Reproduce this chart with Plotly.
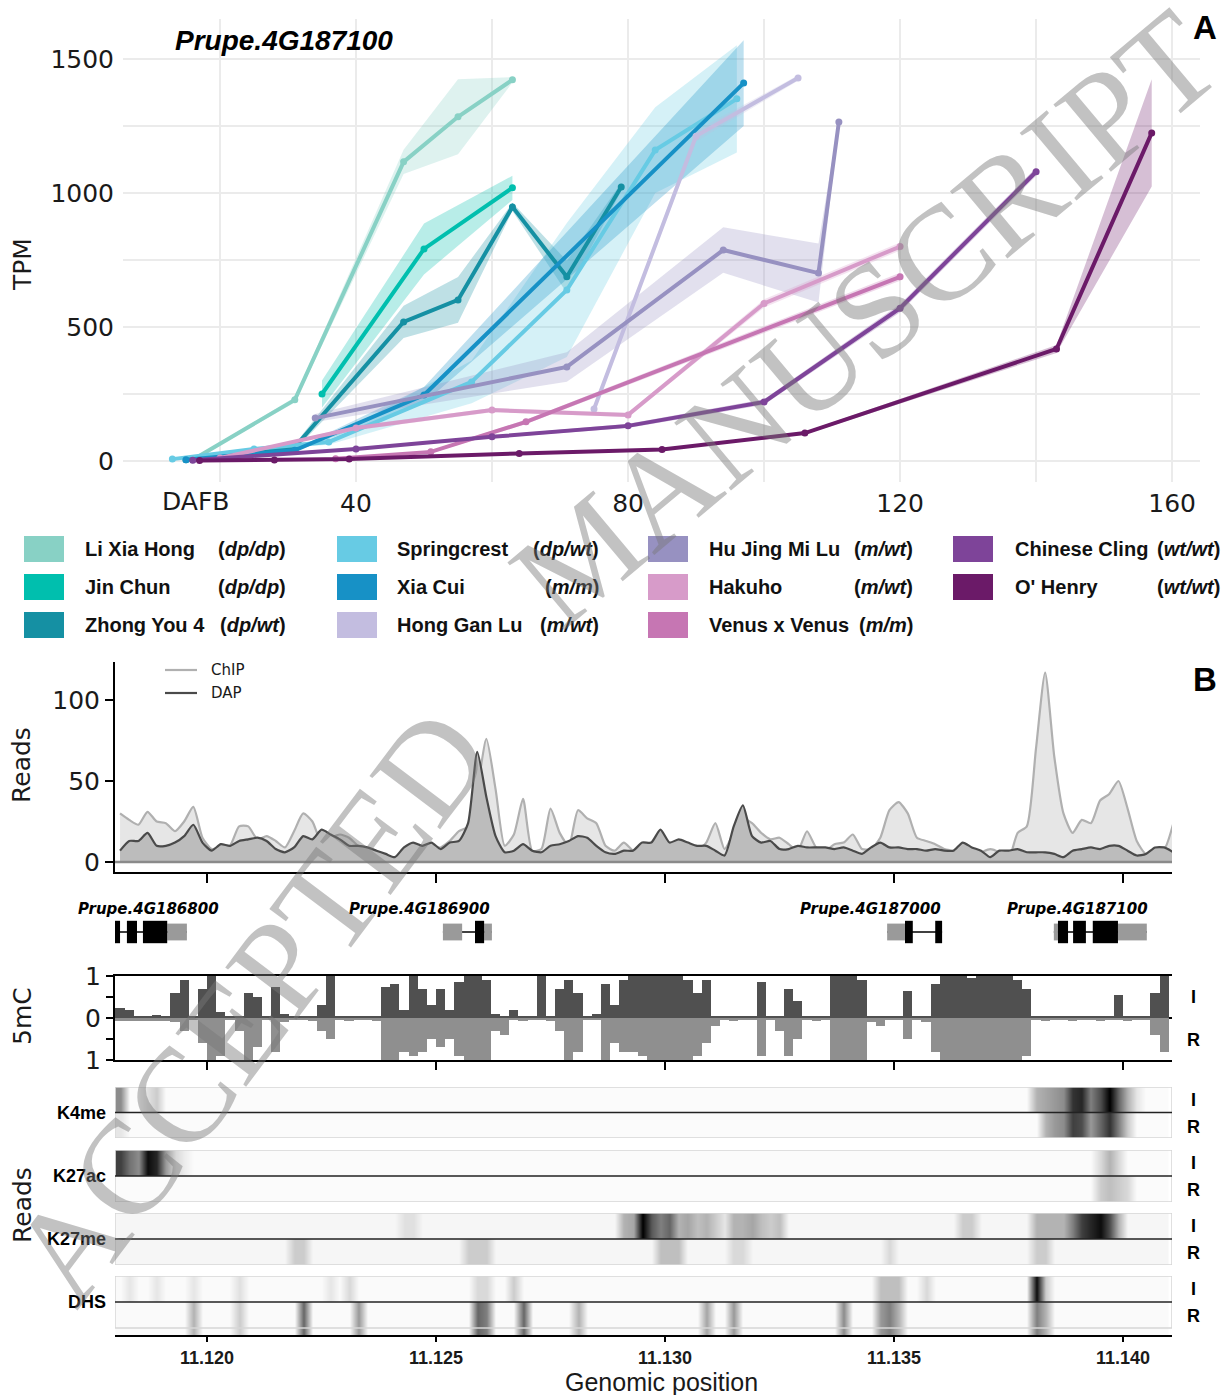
import plotly.graph_objects as go

W, H = 1225, 1395
def fx(p): return p / W
def fy(p): return 1 - p / H

# ---------------- Panel A data (DAFB, TPM, band half-width) ----------------
LXH_DAFB = [16, 31, 47, 55, 63]
LXH_TPM = [5, 228, 1116, 1284, 1422]
LXH_SD = [3, 10, 45, 140, 10]

JC_DAFB = [35, 50, 63]
JC_TPM = [250, 791, 1019]
JC_SD = [50, 95, 45]

ZY4_DAFB = [15, 31, 47, 55, 63, 71, 79]
ZY4_TPM = [5, 52, 519, 601, 948, 687, 1022]
ZY4_SD = [3, 10, 60, 85, 15, 60, 15]

SPC_DAFB = [13, 25, 36, 57, 71, 84, 96]
SPC_TPM = [7, 45, 71, 295, 638, 1160, 1351]
SPC_SD = [3, 5, 10, 80, 250, 160, 200]

XC_DAFB = [15, 31, 50, 97]
XC_TPM = [5, 40, 246, 1410]
XC_SD = [3, 5, 30, 160]

HGL_DAFB = [75, 90, 105]
HGL_TPM = [194, 1212, 1429]
HGL_SD = [10, 20, 10]

HJML_DAFB = [34, 71, 94, 108, 111]
HJML_TPM = [160, 351, 787, 701, 1265]
HJML_SD = [15, 55, 85, 110, 10]

HAK_DAFB = [20, 40, 60, 80, 100, 120]
HAK_TPM = [11, 123, 190, 172, 588, 800]
HAK_SD = [3, 8, 8, 8, 15, 15]

VV_DAFB = [37, 51, 65, 120]
VV_TPM = [8, 34, 146, 687]
VV_SD = [3, 5, 8, 15]

CC_DAFB = [16, 40, 60, 80, 100, 120, 140]
CC_TPM = [3, 45, 90, 131, 220, 570, 1079]
CC_SD = [2, 5, 5, 8, 10, 15, 15]

OH_DAFB = [17, 28, 39, 64, 85, 106, 143, 157]
OH_TPM = [2, 4, 7, 28, 43, 104, 418, 1224]
OH_SD = [1, 2, 2, 3, 3, 5, 15, 200]

CULTIVARS = ["Li Xia Hong", "Jin Chun", "Zhong You 4", "Springcrest", "Xia Cui", "Hong Gan Lu",
             "Hu Jing Mi Lu", "Hakuho", "Venus x Venus", "Chinese Cling", "O' Henry"]
GENOTYPES = ["dp/dp", "dp/dp", "dp/wt", "dp/wt", "m/m", "m/wt", "m/wt", "m/wt", "m/m", "wt/wt", "wt/wt"]
COLORS = ["#88d1c5", "#00bfae", "#1590a3", "#67cbe4", "#1791c6", "#c3bde0",
          "#9791c1", "#d79bc9", "#c676b3", "#7e4499", "#6b1a68"]
DAFB_TICKS = [20, 40, 60, 80, 100, 120, 140, 160]
DAFB_TICK_TEXT = ["", "40", "", "80", "", "120", "", "160"]
TPM_TICKS = [0, 250, 500, 750, 1000, 1250, 1500]
TPM_TICK_TEXT = ["0", "", "500", "", "1000", "", "1500"]

# ---------------- Panel B data ----------------
KB_RANGE = [11117.99, 11141.07]
KB_TICKS = [11120, 11125, 11130, 11135, 11140]
KB_TICK_TEXT = ["11.120", "11.125", "11.130", "11.135", "11.140"]
GRID_START_KB = 11118.1
GRID_STEP_KB = 0.2

CHIP_READS = [30, 26, 23, 31, 25, 24, 19, 25, 34, 15,
              8, 9, 10, 22, 22, 14, 16, 13, 9, 19,
              30, 25, 12, 15, 17, 15, 10, 8, 6, 3,
              2, 1, 4, 8, 9, 9, 13, 19, 22, 45,
              76, 45, 10, 17, 39, 7, 8, 33, 18, 10,
              32, 27, 24, 10, 7, 12, 7, 5, 7, 9,
              7, 5, 6, 7, 12, 24, 8, 18, 27, 24,
              18, 14, 15, 11, 7, 19, 9, 7, 11, 12,
              17, 8, 8, 15, 32, 37, 30, 15, 13, 11,
              8, 7, 5, 4, 6, 8, 6, 2, 18, 22,
              70, 117, 65, 30, 18, 26, 24, 38, 42, 50,
              33, 13, 5, 8, 8, 24]
DAP_READS = [7, 13, 13, 18, 10, 10, 12, 16, 23, 12,
             7, 11, 10, 13, 14, 15, 13, 8, 6, 9,
             16, 14, 20, 17, 14, 10, 10, 9, 7, 5,
             3, 9, 12, 10, 12, 8, 12, 13, 24, 68,
             40, 16, 6, 7, 11, 7, 6, 10, 11, 13,
             16, 15, 10, 6, 5, 7, 7, 12, 12, 20,
             12, 14, 12, 10, 10, 7, 4, 22, 35, 16,
             12, 13, 8, 8, 10, 9, 9, 9, 8, 9,
             7, 5, 9, 12, 9, 9, 8, 8, 7, 8,
             7, 7, 12, 9, 7, 3, 7, 7, 8, 6,
             6, 6, 5, 3, 7, 8, 9, 8, 10, 10,
             7, 4, 5, 9, 9, 6]

MC_I = [0.25, 0.2, 0.05, 0.05, 0.08, 0.05, 0.6, 0.9, 0.05, 0.7,
        1.0, 0.15, 0.05, 0.04, 0.6, 0.5, 0.05, 0.75, 0.1, 0.05,
        0.04, 0.05, 0.3, 1.0, 0.05, 0.04, 0.05, 0.05, 0.04, 0.75,
        0.8, 0.2, 1.0, 0.7, 0.3, 0.7, 0.2, 0.85, 1.0, 1.0,
        0.9, 0.1, 0.05, 0.2, 0.05, 0.04, 1.0, 0.05, 0.7, 0.9,
        0.6, 0.05, 0.1, 0.8, 0.3, 0.9, 1.0, 1.0, 1.0, 1.0,
        1.0, 1.0, 0.9, 0.6, 0.9, 0.05, 0.04, 0.05, 0.05, 0.04,
        0.85, 0.05, 0.05, 0.7, 0.4, 0.05, 0.04, 0.05, 1.0, 1.0,
        1.0, 0.9, 0.05, 0.05, 0.04, 0.05, 0.65, 0.05, 0.05, 0.8,
        1.0, 1.0, 1.0, 0.95, 1.0, 1.0, 1.0, 1.0, 0.9, 0.7,
        0.05, 0.04, 0.05, 0.05, 0.04, 0.05, 0.05, 0.04, 0.05, 0.55,
        0.05, 0.04, 0.05, 0.6, 1.0]
MC_R = [0.07, 0.07, 0.06, 0.07, 0.06, 0.07, 0.1, 0.3, 0.05, 0.6,
        1.0, 0.9, 0.05, 0.3, 1.0, 0.7, 0.05, 0.8, 0.1, 0.05,
        0.05, 0.06, 0.3, 0.5, 0.05, 0.06, 0.05, 0.05, 0.06, 1.0,
        1.0, 0.8, 0.9, 0.8, 0.5, 0.7, 0.5, 0.9, 1.0, 1.0,
        1.0, 0.3, 0.4, 0.05, 0.06, 0.05, 0.05, 0.06, 0.3, 1.0,
        0.8, 0.05, 0.05, 1.0, 0.6, 0.8, 0.8, 0.9, 1.0, 1.0,
        1.0, 1.0, 1.0, 0.9, 0.6, 0.2, 0.05, 0.06, 0.05, 0.05,
        0.9, 0.05, 0.3, 0.9, 0.5, 0.05, 0.06, 0.05, 1.0, 1.0,
        1.0, 1.0, 0.1, 0.2, 0.05, 0.05, 0.5, 0.05, 0.1, 0.8,
        1.0, 1.0, 1.0, 1.0, 1.0, 1.0, 1.0, 1.0, 1.0, 0.9,
        0.05, 0.06, 0.05, 0.05, 0.06, 0.05, 0.05, 0.06, 0.05, 0.05,
        0.06, 0.05, 0.05, 0.4, 0.8]

# heatmap tracks: background level + read bins {bin index: level}
TRACK_NAMES = ["K4me", "K27ac", "K27me", "DHS"]
TRACK_BG = [0.015, 0.015, 0.035, 0.02]
K4ME_I = {0: 0.45, 3: 0.12, 4: 0.2, 100: 0.3, 101: 0.35, 102: 0.4, 103: 0.45, 104: 0.8, 105: 0.85,
          106: 0.5, 107: 0.7, 108: 1.0, 109: 0.6, 110: 0.3, 111: 0.1}
K4ME_R = {0: 0.1, 101: 0.3, 102: 0.4, 103: 0.45, 104: 0.75, 105: 0.7, 106: 0.4, 107: 0.6, 108: 0.8,
          109: 0.5, 110: 0.2}
K27AC_I = {0: 0.75, 1: 0.55, 2: 0.45, 3: 0.95, 4: 0.85, 5: 0.4, 6: 0.15, 7: 0.07, 107: 0.15, 108: 0.3, 109: 0.15}
K27AC_R = {107: 0.2, 108: 0.25, 109: 0.2, 110: 0.15}
K27ME_I = {31: 0.12, 32: 0.12, 55: 0.3, 56: 0.35, 57: 1.0, 58: 0.65, 59: 0.5, 60: 0.6, 61: 0.3, 62: 0.35,
           63: 0.25, 64: 0.3, 65: 0.2, 66: 0.1, 67: 0.3, 68: 0.3, 69: 0.35, 70: 0.25, 71: 0.2, 72: 0.25,
           92: 0.2, 93: 0.2, 100: 0.3, 101: 0.3, 102: 0.3, 103: 0.3, 104: 0.5, 105: 0.75, 106: 0.85,
           107: 0.95, 108: 0.7, 109: 0.3}
K27ME_R = {19: 0.2, 20: 0.2, 38: 0.2, 39: 0.2, 40: 0.2, 59: 0.25, 60: 0.25, 61: 0.25, 67: 0.15, 68: 0.15,
           84: 0.15, 100: 0.2, 101: 0.2}
DHS_I = {1: 0.1, 4: 0.1, 8: 0.1, 13: 0.12, 23: 0.1, 25: 0.15, 39: 0.15, 40: 0.15, 43: 0.2, 83: 0.25,
         84: 0.25, 85: 0.25, 88: 0.15, 100: 0.95, 101: 0.2}
DHS_R = {8: 0.3, 13: 0.2, 20: 0.6, 26: 0.4, 39: 0.6, 40: 0.5, 44: 0.6, 50: 0.3, 64: 0.35, 67: 0.4,
         79: 0.45, 83: 0.4, 84: 0.5, 85: 0.3, 100: 0.5, 101: 0.3}

# gene models (kb)
GENE_NAMES = ["Prupe.4G186800", "Prupe.4G186900", "Prupe.4G187000", "Prupe.4G187100"]
GENE_SPANS = [(11117.99, 11119.56), (11125.15, 11126.22), (11134.85, 11136.05), (11138.49, 11140.52)]
GENE_LABEL_END = [11120.31, 11126.22, 11136.07, 11140.59]
GENE_CDS = [[(11117.99, 11118.10), (11118.25, 11118.47), (11118.60, 11119.13)],
            [(11125.85, 11126.05)],
            [(11135.24, 11135.41), (11135.90, 11136.05)],
            [(11138.58, 11138.80), (11138.91, 11139.19), (11139.34, 11139.89)]]
GENE_UTR = [[(11119.13, 11119.56)],
            [(11125.15, 11125.57), (11126.05, 11126.22)],
            [(11134.85, 11135.24)],
            [(11138.49, 11138.58), (11139.89, 11140.52)]]

# ---------------- build ----------------
def rgba(h, a):
    h = h.lstrip("#")
    return "rgba(%d,%d,%d,%.2f)" % (int(h[0:2], 16), int(h[2:4], 16), int(h[4:6], 16), a)

SERIES = [(LXH_DAFB, LXH_TPM, LXH_SD), (JC_DAFB, JC_TPM, JC_SD), (ZY4_DAFB, ZY4_TPM, ZY4_SD),
          (SPC_DAFB, SPC_TPM, SPC_SD), (XC_DAFB, XC_TPM, XC_SD), (HGL_DAFB, HGL_TPM, HGL_SD),
          (HJML_DAFB, HJML_TPM, HJML_SD), (HAK_DAFB, HAK_TPM, HAK_SD), (VV_DAFB, VV_TPM, VV_SD),
          (CC_DAFB, CC_TPM, CC_SD), (OH_DAFB, OH_TPM, OH_SD)]

fig = go.Figure()
for (xs, ys, sd), col in zip(SERIES, COLORS):
    up = [y + s for y, s in zip(ys, sd)]
    lo = [y - s for y, s in zip(ys, sd)]
    fig.add_trace(go.Scatter(x=xs + xs[::-1], y=up + lo[::-1], fill="toself",
                             fillcolor=rgba(col, 0.28), line=dict(width=0), mode="lines",
                             hoverinfo="skip", showlegend=False, xaxis="x", yaxis="y"))
for (xs, ys, sd), col, nm in zip(SERIES, COLORS, CULTIVARS):
    fig.add_trace(go.Scatter(x=xs, y=ys, mode="lines+markers", name=nm,
                             line=dict(color=col, width=4), marker=dict(size=7, color=col),
                             showlegend=False, xaxis="x", yaxis="y"))

grid = [round(GRID_START_KB + GRID_STEP_KB * i, 2) for i in range(len(CHIP_READS))]
fig.add_trace(go.Scatter(x=grid, y=CHIP_READS, fill="tozeroy", fillcolor="#e6e6e6", mode="lines",
                         line=dict(color="#b0b0b0", width=2.2, shape="spline", smoothing=0.6),
                         showlegend=False, xaxis="x2", yaxis="y2"))
fig.add_trace(go.Scatter(x=grid, y=DAP_READS, fill="tozeroy", fillcolor="#bcbcbc", mode="lines",
                         line=dict(color="#4a4a4a", width=2.2, shape="spline", smoothing=0.6),
                         showlegend=False, xaxis="x2", yaxis="y2"))

mgrid = grid[:len(MC_I)]
fig.add_trace(go.Bar(x=mgrid, y=MC_I, width=GRID_STEP_KB, marker=dict(color="#505050", line=dict(width=0)),
                     showlegend=False, xaxis="x4", yaxis="y4"))
fig.add_trace(go.Bar(x=mgrid, y=[-v for v in MC_R], width=GRID_STEP_KB,
                     marker=dict(color="#8f8f8f", line=dict(width=0)),
                     showlegend=False, xaxis="x4", yaxis="y4"))

TRACKS = [(K4ME_I, K4ME_R), (K27AC_I, K27AC_R), (K27ME_I, K27ME_R), (DHS_I, DHS_R)]
for k, ((ri, rr), bg) in enumerate(zip(TRACKS, TRACK_BG)):
    row_i = [ri.get(i, bg) for i in range(len(mgrid))]
    row_r = [rr.get(i, bg) for i in range(len(mgrid))]
    fig.add_trace(go.Heatmap(x=mgrid, y=[-0.5, 0.49, 0.51, 1.5], z=[row_r, row_r, row_i, row_i],
                             zmin=0, zmax=1, zsmooth="best",
                             colorscale=[[0, "#ffffff"], [1, "#000000"]], showscale=False,
                             xaxis="x%d" % (5 + k), yaxis="y%d" % (5 + k), hoverinfo="skip"))

NUMF = dict(family="DejaVu Sans", size=25, color="#1a1a1a")
layout = dict(
    width=W, height=H, margin=dict(l=0, r=0, t=0, b=0, autoexpand=False), paper_bgcolor="white",
    plot_bgcolor="white", barmode="overlay", bargap=0, showlegend=False,
    xaxis=dict(domain=[fx(123), fx(1200)], range=[5.74, 164.1], anchor="y", tickvals=DAFB_TICKS,
               ticktext=DAFB_TICK_TEXT, showgrid=True, gridcolor="#ebebeb", gridwidth=2, zeroline=False,
               showline=False, ticks="", tickfont=NUMF, ticklabelstandoff=4, automargin=False),
    yaxis=dict(domain=[fy(482), fy(19)], range=[-78.4, 1649], anchor="x", tickvals=TPM_TICKS,
               ticktext=TPM_TICK_TEXT, showgrid=True, gridcolor="#ebebeb", gridwidth=2, zeroline=False,
               showline=False, ticks="", tickfont=NUMF, ticklabelstandoff=8, automargin=False),
    xaxis2=dict(domain=[fx(115), fx(1172)], range=KB_RANGE, anchor="y2", showline=True, linecolor="black",
                linewidth=2, ticks="outside", ticklen=9, tickwidth=2, tickcolor="black", tickvals=KB_TICKS,
                showticklabels=False, showgrid=False, zeroline=False, automargin=False),
    yaxis2=dict(domain=[fy(872), fy(662)], range=[-6.17, 123.5], anchor="x2", showline=True,
                linecolor="black", linewidth=2, ticks="outside", ticklen=8, tickwidth=2, tickcolor="black",
                tickvals=[0, 50, 100], tickfont=NUMF, showgrid=False, zeroline=False, automargin=False),
    xaxis3=dict(domain=[fx(115), fx(1172)], range=KB_RANGE, anchor="y3", visible=False, automargin=False),
    yaxis3=dict(domain=[fy(952), fy(912)], range=[-1, 1], anchor="x3", visible=False, automargin=False),
    xaxis4=dict(domain=[fx(115), fx(1172)], range=KB_RANGE, anchor="y4", showline=True, mirror=True,
                linecolor="black", linewidth=2, ticks="outside", ticklen=8, tickwidth=2, tickcolor="black",
                tickvals=KB_TICKS, showticklabels=False, showgrid=False, zeroline=False, automargin=False),
    yaxis4=dict(domain=[fy(1060), fy(976)], range=[-1, 1], anchor="x4", showline=True, linecolor="black",
                linewidth=2, ticks="outside", ticklen=7, tickwidth=2, tickcolor="black",
                tickvals=[-1, -0.5, 0, 0.5, 1], ticktext=["1", "", "0", "", "1"], tickfont=NUMF,
                showgrid=False, zeroline=True, zerolinecolor="black", zerolinewidth=2, automargin=False),
)
TRACK_PX = [(1087, 1138), (1150, 1202), (1213, 1265), (1276, 1335)]
for k, (t, b) in enumerate(TRACK_PX):
    n = 5 + k
    last = (k == 3)
    layout["xaxis%d" % n] = dict(domain=[fx(115), fx(1172)], range=KB_RANGE, anchor="y%d" % n,
                                 visible=last, showline=last, linecolor="black", linewidth=2,
                                 ticks="outside" if last else "", ticklen=5, tickwidth=2, tickcolor="black",
                                 tickvals=KB_TICKS, ticktext=KB_TICK_TEXT, showgrid=False, zeroline=False,
                                 automargin=False,
                                 tickfont=dict(family="Liberation Sans", size=18, color="#1a1a1a", weight="bold"))
    layout["yaxis%d" % n] = dict(domain=[fy(b), fy(t)], range=[-0.77 if last else -0.5, 1.5],
                                 anchor="x%d" % n, visible=False, automargin=False)
fig.update_layout(**layout)

shapes = []
shapes.append(dict(type="line", xref="x2", yref="y2", x0=KB_RANGE[0], x1=KB_RANGE[1], y0=0, y1=0,
                   line=dict(color="#8a8a8a", width=2.5)))
for span, cds, utr in zip(GENE_SPANS, GENE_CDS, GENE_UTR):
    shapes.append(dict(type="line", xref="x3", yref="y3", x0=span[0], x1=span[1], y0=0, y1=0,
                       line=dict(color="black", width=1.5)))
    for a, b in utr:
        shapes.append(dict(type="rect", xref="x3", yref="y3", x0=a, x1=b, y0=-0.42, y1=0.42,
                           fillcolor="#9a9a9a", line=dict(width=0)))
    for a, b in cds:
        shapes.append(dict(type="rect", xref="x3", yref="y3", x0=a, x1=b, y0=-0.56, y1=0.56,
                           fillcolor="black", line=dict(width=0)))
for k in range(4):
    n = 5 + k
    shapes.append(dict(type="rect", xref="x%d" % n, yref="y%d" % n, x0=KB_RANGE[0], x1=KB_RANGE[1],
                       y0=-0.5, y1=1.5, line=dict(color="#d6d6d6", width=1.5)))
    shapes.append(dict(type="line", xref="x%d" % n, yref="y%d" % n, x0=KB_RANGE[0], x1=KB_RANGE[1],
                       y0=0.5, y1=0.5, line=dict(color="#222222", width=1.5)))
shapes.append(dict(type="line", xref="paper", yref="paper", x0=fx(165), x1=fx(197), y0=fy(670), y1=fy(670),
                   line=dict(color="#b0b0b0", width=2.2)))
shapes.append(dict(type="line", xref="paper", yref="paper", x0=fx(165), x1=fx(197), y0=fy(693), y1=fy(693),
                   line=dict(color="#4a4a4a", width=2.2)))
COL_SW = [24, 337, 648, 953]
COL_TX = [83, 395, 707, 1013]
COL_RT = [288, 601, 915, 1222]
ROW_Y = [549, 587, 625]
ann = []
for idx, (nm, gt, col) in enumerate(zip(CULTIVARS, GENOTYPES, COLORS)):
    c, r = idx // 3, idx % 3
    shapes.append(dict(type="rect", xref="paper", yref="paper", x0=fx(COL_SW[c]), x1=fx(COL_SW[c] + 40),
                       y0=fy(ROW_Y[r] + 13), y1=fy(ROW_Y[r] - 13), fillcolor=col, line=dict(width=0)))
    LF = dict(family="Liberation Sans", size=20, color="#111111")
    ann.append(dict(x=fx(COL_TX[c]), y=fy(ROW_Y[r]), xref="paper", yref="paper", xanchor="left",
                    yanchor="middle", text="<b>%s</b>" % nm, showarrow=False, font=LF))
    ann.append(dict(x=fx(COL_RT[c]), y=fy(ROW_Y[r]), xref="paper", yref="paper", xanchor="right",
                    yanchor="middle", text="<b>(<i>%s</i>)</b>" % gt, showarrow=False, font=LF))

def pa(x, y, text, size, family="DejaVu Sans", angle=0, xa="center", ya="middle", color="#1a1a1a"):
    ann.append(dict(x=fx(x), y=fy(y), xref="paper", yref="paper", text=text, showarrow=False,
                    textangle=angle, xanchor=xa, yanchor=ya, font=dict(family=family, size=size, color=color)))

pa(284, 41, "<b><i>Prupe.4G187100</i></b>", 28, "Liberation Sans", color="black")
pa(1205, 28, "<b>A</b>", 33, "Liberation Sans", color="black")
pa(1205, 680, "<b>B</b>", 33, "Liberation Sans", color="black")
pa(22, 265, "TPM", 25, angle=-90)
ann.append(dict(x=16.4, y=fy(502), xref="x", yref="paper", text="DAFB", showarrow=False,
                font=NUMF, xanchor="center", yanchor="middle"))
pa(22, 765, "Reads", 25, angle=-90)
pa(22, 1016, "5mC", 25, angle=-90)
pa(22, 1205, "Reads", 25, angle=-90)
pa(209, 670, "ChIP", 15, xa="left")
pa(209, 693, "DAP", 15, xa="left")
for nm, xe in zip(GENE_NAMES, GENE_LABEL_END):
    ann.append(dict(x=xe, y=fy(909), xref="x3", yref="paper", text="<b><i>%s</i></b>" % nm, showarrow=False,
                    xanchor="right", yanchor="middle", font=dict(family="DejaVu Sans", size=15, color="black")))
TRACK_MID = [1113, 1176, 1239, 1302]
for nm, ym in zip(TRACK_NAMES, TRACK_MID):
    pa(108, ym, "<b>%s</b>" % nm, 18, "Liberation Sans", xa="right", color="black")
    pa(1193, ym - 13, "<b>I</b>", 18, "Liberation Sans", color="black")
    pa(1193, ym + 14, "<b>R</b>", 18, "Liberation Sans", color="black")
pa(1193, 997, "<b>I</b>", 18, "Liberation Sans", color="black")
pa(1193, 1040, "<b>R</b>", 18, "Liberation Sans", color="black")
pa(661, 1382, "Genomic position", 25, "Liberation Sans", color="#1a1a1a")
# watermark
pa(250, 1005, "ACCEPTED", 135, "Liberation Serif", angle=-53, color="rgba(120,120,120,0.45)")
pa(865, 318, "MANUSCRIPT", 135, "Liberation Serif", angle=-40, color="rgba(120,120,120,0.45)")

fig.update_layout(shapes=shapes, annotations=ann)
fig.write_html("out.html", config={"displayModeBar": False, "staticPlot": True},
               post_script="document.body.style.margin='0px';document.body.style.overflow='hidden';")
